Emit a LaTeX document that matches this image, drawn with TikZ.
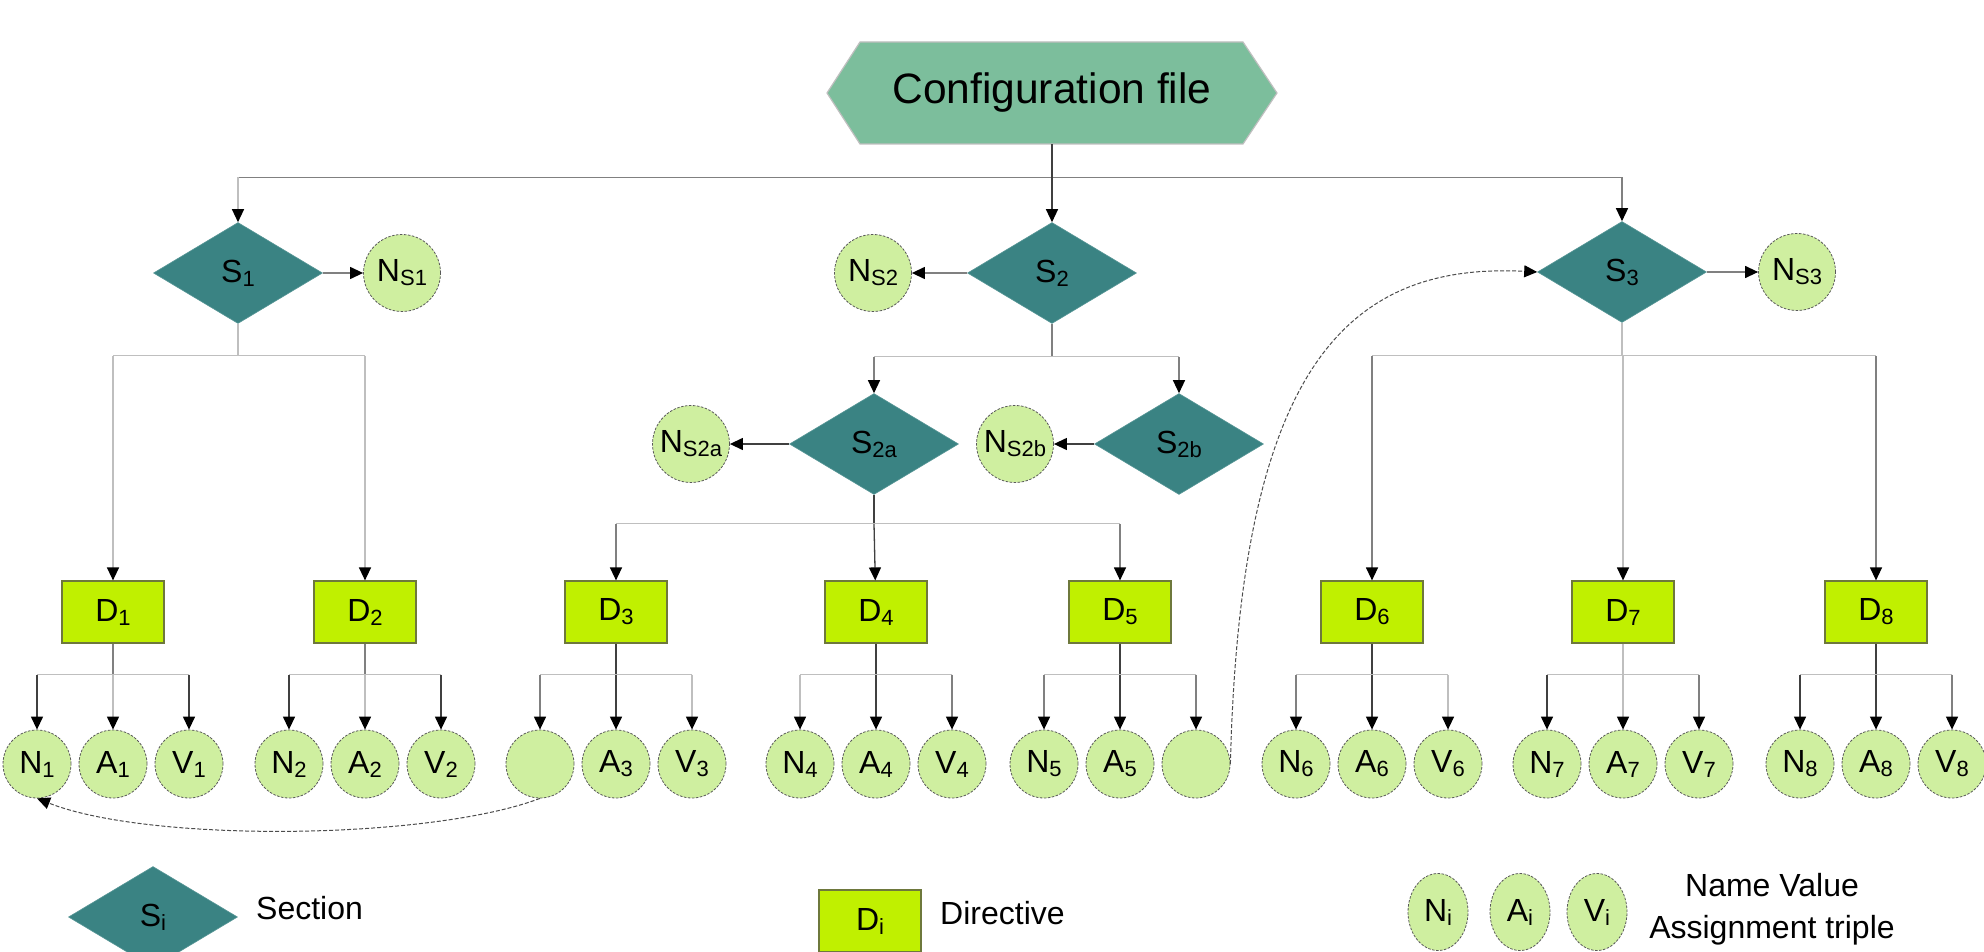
\documentclass[tikz,border=0pt]{standalone}
\usepackage{fontspec}
\setmainfont{Liberation Sans}
\usetikzlibrary{shapes.geometric,arrows.meta,calc}
\definecolor{hexc}{RGB}{124,190,156}
\definecolor{secc}{RGB}{58,131,131}
\definecolor{dirc}{RGB}{192,240,0}
\definecolor{dirb}{RGB}{110,120,60}
\definecolor{navc}{RGB}{207,239,160}
\newcommand\sbx[1]{\raisebox{-4pt}{\fontsize{22}{22}\selectfont #1}}
\newcommand\mktriple[4]{%
  \node[dirbox] (D#1) at (#2,612) {D\sbx{#1}};
  \node[nav] (N#1) at (#2-76,764) {#3};
  \node[nav] (A#1) at (#2,764) {A\sbx{#1}};
  \node[nav] (V#1) at (#2+76,764) {#4};
}
\newcommand\mkconn[5]{%
  \draw[#2] (D#1.south) -- ++(0,31) coordinate (J#1);
  \draw[lt] (J#1 -| N#1) -- (J#1 -| V#1);
  \draw[#3,arr] (J#1 -| N#1) -- (N#1);
  \draw[#4,arr] (J#1) -- (A#1);
  \draw[#5,arr] (J#1 -| V#1) -- (V#1);
}
\begin{document}
\begin{tikzpicture}[x=1pt,y=-1pt,
  lbl/.style={font=\fontsize{32}{32}\selectfont, text=black},
  sec/.style={diamond, fill=secc, draw=secc!85!white, line width=0.6pt, minimum width=169pt, minimum height=101pt, inner sep=0pt, aspect=1.67, lbl},
  dirbox/.style={rectangle, fill=dirc, draw=dirb, line width=1.2pt, minimum width=102pt, minimum height=62pt, inner sep=0pt, lbl},
  nav/.style={circle, fill=navc, draw=black!65, line width=0.8pt, dash pattern=on 2.5pt off 1.5pt, minimum size=68pt, inner sep=0pt, lbl},
  nsc/.style={nav, minimum size=77pt},
  navl/.style={ellipse, fill=navc, draw=black!65, line width=0.8pt, dash pattern=on 2.5pt off 1.5pt, minimum width=60pt, minimum height=77pt, inner sep=0pt, lbl},
  dk/.style={draw=black!75, line width=1.3pt},
  md/.style={draw=black!50, line width=1.3pt},
  lt/.style={draw=black!25, line width=1.3pt},
  arr/.style={-{Triangle[length=13pt,width=12pt,color=black]}},
  curv/.style={draw=black!70, line width=1pt, dash pattern=on 4pt off 2pt, arr},
  txt/.style={lbl, inner sep=0pt}]
\fill[white] (0,0) rectangle (1984,952);
\useasboundingbox (0,0) rectangle (1984,952);

% configuration file
\filldraw[fill=hexc, draw=black!25, line width=1.2pt] (827,93) -- (860,42) -- (1243,42) -- (1277,93) -- (1243,144) -- (860,144) -- cycle;
\node[minimum width=450pt, minimum height=102pt, inner sep=0pt, font=\fontsize{42.5}{42.5}\selectfont] (cfg) at (1052,93) {Configuration file};

% sections
\node[sec] (S1) at (238,273) {S\sbx{1}};
\node[sec] (S2) at (1052,273) {S\sbx{2}};
\node[sec] (S3) at (1622,272) {S\sbx{3}};
\node[nsc] (NS1) at (402,273) {N\sbx{S1}};
\node[nsc] (NS2) at (873,273) {N\sbx{S2}};
\node[nsc] (NS3) at (1797,272) {N\sbx{S3}};
\node[sec] (S2a) at (874,444) {S\sbx{2a}};
\node[sec] (S2b) at (1179,444) {S\sbx{2b}};
\node[nsc] (NS2a) at (691,444) {N\sbx{S2a}};
\node[nsc] (NS2b) at (1015,444) {N\sbx{S2b}};

% directives and triples
\mktriple{1}{113}{N\sbx{1}}{V\sbx{1}}
\mktriple{2}{365}{N\sbx{2}}{V\sbx{2}}
\mktriple{3}{616}{}{V\sbx{3}}
\mktriple{4}{876}{N\sbx{4}}{V\sbx{4}}
\mktriple{5}{1120}{N\sbx{5}}{}
\mktriple{6}{1372}{N\sbx{6}}{V\sbx{6}}
\mktriple{7}{1623}{N\sbx{7}}{V\sbx{7}}
\mktriple{8}{1876}{N\sbx{8}}{V\sbx{8}}

% config connectors
\draw[dk] (cfg.south) -- ++(0,33) coordinate (j0);
\draw[md] (j0 -| S1) -- (j0 -| S3);
\draw[lt,arr] (j0 -| S1) -- (S1);
\draw[dk,arr] (j0) -- (S2);
\draw[md,arr] (j0 -| S3) -- (S3);

% side arrows
\draw[md,arr] (S1) -- (NS1);
\draw[md,arr] (S2) -- (NS2);
\draw[md,arr] (S3) -- (NS3);
\draw[dk,arr] (S2a) -- (NS2a);
\draw[dk,arr] (S2b) -- (NS2b);

% S1 tree
\draw[lt] (S1.south) -- ++(0,32) coordinate (j1);
\draw[lt] (j1 -| D1) -- (j1 -| D2);
\draw[lt,arr] (j1 -| D1) -- (D1);
\draw[lt,arr] (j1 -| D2) -- (D2);

% S2 tree
\draw[md] (S2.south) -- ++(0,33) coordinate (j2);
\draw[lt] (j2 -| S2a) -- (j2 -| S2b);
\draw[md,arr] (j2 -| S2a) -- (S2a);
\draw[md,arr] (j2 -| S2b) -- (S2b);

% S2a tree
\draw[dk] (S2a.south) -- ++(0,29) coordinate (j2a);
\draw[lt] (j2a -| D3) -- (j2a -| D5);
\draw[md,arr] (j2a -| D3) -- (D3);
\draw[dk,arr] (j2a) -- (D4);
\draw[md,arr] (j2a -| D5) -- (D5);

% S3 tree
\draw[lt] (S3.south) -- ++(0,33) coordinate (j3);
\draw[lt] (j3 -| D6) -- (j3 -| D8);
\draw[md,arr] (j3 -| D6) -- (D6);
\draw[lt,arr] (j3 -| D7) -- (D7);
\draw[md,arr] (j3 -| D8) -- (D8);

% directive trees
\mkconn{1}{md}{dk}{lt}{dk}
\mkconn{2}{md}{dk}{lt}{dk}
\mkconn{3}{dk}{md}{dk}{lt}
\mkconn{4}{dk}{lt}{dk}{md}
\mkconn{5}{dk}{md}{dk}{md}
\mkconn{6}{dk}{md}{dk}{lt}
\mkconn{7}{lt}{dk}{lt}{md}
\mkconn{8}{dk}{dk}{dk}{md}

% curved references
\draw[curv] (N3.south) .. controls (430,840) and (150,843) .. (N1.south);
\draw[curv] (V5.east) .. controls (1240,370) and (1345,262) .. (S3.west);

% legend
\node[sec] (LS) at (153,917) {S\sbx{i}};
\node[txt, anchor=west] (LSt) at (256,908) {Section};
\node[dirbox] (LD) at (870,921) {D\sbx{i}};
\node[txt, anchor=west] (LDt) at (940,913) {Directive};
\node[navl] (LN) at (1438,912) {N\sbx{i}};
\node[navl] (LA) at (1520,912) {A\sbx{i}};
\node[navl] (LV) at (1597,912) {V\sbx{i}};
\node[txt, align=center, font=\fontsize{32}{42}\selectfont] (LT) at (1772,909) {Name Value\\Assignment triple};
\end{tikzpicture}
\end{document}
